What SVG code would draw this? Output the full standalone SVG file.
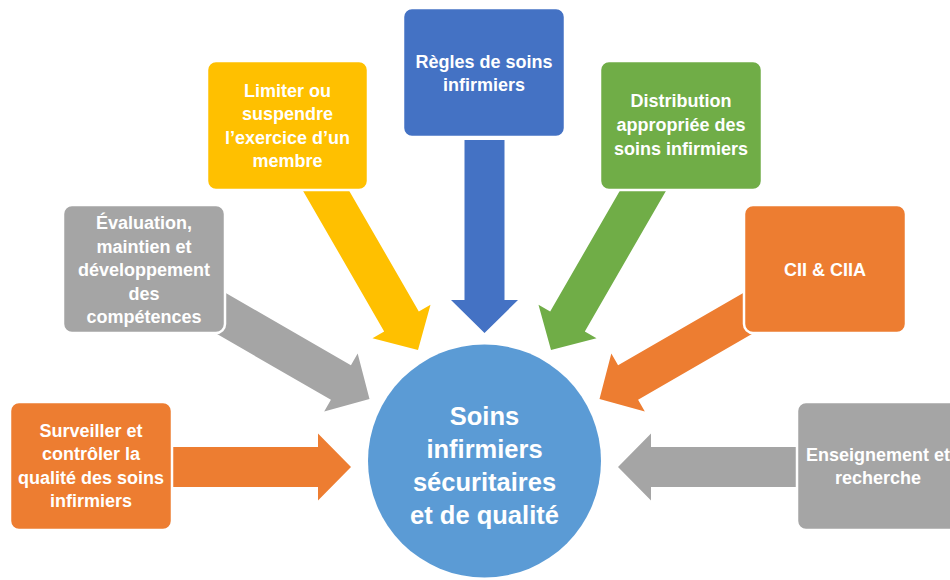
<svg xmlns="http://www.w3.org/2000/svg" width="950" height="580" viewBox="0 0 950 580">
  <defs>
    <!-- block arrow pointing along +x, tip at origin; shaft length set per use -->
    <style>
      .box { stroke: #ffffff; stroke-width: 2.5; }
      .lbl { font-family: "Liberation Sans", Arial, sans-serif; font-weight: bold; font-size: 18px; fill: #ffffff; text-anchor: middle; }
      .hub { font-family: "Liberation Sans", Arial, sans-serif; font-weight: bold; font-size: 25.5px; fill: #ffffff; text-anchor: middle; }
      .blue { fill: #4472C4; }
      .yellow { fill: #FFC000; }
      .green { fill: #70AD47; }
      .orange { fill: #ED7D31; }
      .gray { fill: #A5A5A5; }
    </style>
  </defs>
  <rect width="950" height="580" fill="#ffffff"/>

  <!-- connectors: block arrows converging on the hub -->
  <g id="connectors">
    <polygon class="blue" points="-193,-20 -33,-20 -33,-33.5 0,0 -33,33.5 -33,20 -193,20" transform="translate(484.5,333) rotate(90)"/>
    <polygon class="yellow" points="-205,-20 -33,-20 -33,-33.5 0,0 -33,33.5 -33,20 -205,20" transform="translate(418,350) rotate(60)"/>
    <polygon class="green" points="-205,-20 -33,-20 -33,-33.5 0,0 -33,33.5 -33,20 -205,20" transform="translate(551,350) rotate(120)"/>
    <polygon class="gray" points="-185,-20 -33,-20 -33,-33.5 0,0 -33,33.5 -33,20 -185,20" transform="translate(369.5,399) rotate(30)"/>
    <polygon class="orange" points="-185,-20 -33,-20 -33,-33.5 0,0 -33,33.5 -33,20 -185,20" transform="translate(599.5,399) rotate(150)"/>
    <polygon class="orange" points="-186,-20 -33,-20 -33,-33.5 0,0 -33,33.5 -33,20 -186,20" transform="translate(351,467)"/>
    <polygon class="gray" points="-187,-20 -33,-20 -33,-33.5 0,0 -33,33.5 -33,20 -187,20" transform="translate(618,467) rotate(180)"/>
  </g>

  <g id="hub">
    <circle cx="484.5" cy="461" r="116.5" fill="#5B9BD5"/>
    <text class="hub" x="484.5" y="425">Soins</text>
    <text class="hub" x="484.5" y="458">infirmiers</text>
    <text class="hub" x="484.5" y="491">sécuritaires</text>
    <text class="hub" x="484.5" y="523.5">et de qualité</text>
  </g>

  <g id="regles">
    <rect class="box blue" x="403" y="8" width="162" height="129" rx="9"/>
    <text class="lbl" x="484" y="68">Règles de soins</text>
    <text class="lbl" x="484" y="91">infirmiers</text>
  </g>

  <g id="limiter">
    <rect class="box yellow" x="207" y="61" width="161" height="129" rx="9"/>
    <text class="lbl" x="287.5" y="97">Limiter ou</text>
    <text class="lbl" x="287.5" y="120">suspendre</text>
    <text class="lbl" x="287.5" y="143.5">l’exercice d’un</text>
    <text class="lbl" x="287.5" y="167">membre</text>
  </g>

  <g id="distribution">
    <rect class="box green" x="600" y="61" width="162" height="129" rx="9"/>
    <text class="lbl" x="681" y="107">Distribution</text>
    <text class="lbl" x="681" y="131">appropriée des</text>
    <text class="lbl" x="681" y="155">soins infirmiers</text>
  </g>

  <g id="evaluation">
    <rect class="box gray" x="63" y="205" width="162" height="128" rx="9"/>
    <text class="lbl" x="144" y="229">Évaluation,</text>
    <text class="lbl" x="144" y="252.5">maintien et</text>
    <text class="lbl" x="144" y="276">développement</text>
    <text class="lbl" x="144" y="299.5">des</text>
    <text class="lbl" x="144" y="323">compétences</text>
  </g>

  <g id="cii">
    <rect class="box orange" x="744" y="205" width="162" height="128" rx="9"/>
    <text class="lbl" x="825" y="276">CII &amp; CIIA</text>
  </g>

  <g id="surveiller">
    <rect class="box orange" x="10" y="402" width="162" height="128" rx="9"/>
    <text class="lbl" x="91" y="437">Surveiller et</text>
    <text class="lbl" x="91" y="460">contrôler la</text>
    <text class="lbl" x="91" y="483.5">qualité des soins</text>
    <text class="lbl" x="91" y="507">infirmiers</text>
  </g>

  <g id="enseignement">
    <rect class="box gray" x="797" y="402" width="162" height="128" rx="9"/>
    <text class="lbl" x="878" y="461">Enseignement et</text>
    <text class="lbl" x="878" y="484">recherche</text>
  </g>
</svg>
